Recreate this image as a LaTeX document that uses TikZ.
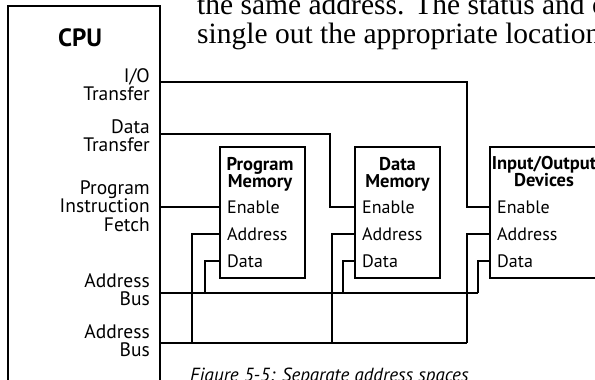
\documentclass[tikz,border=0pt]{standalone}
\usepackage{fontspec}
\setmainfont{PT Sans}
\newfontfamily\bookfont{Liberation Serif}
\usetikzlibrary{positioning}
\tikzset{
  chip/.style={draw, line width=2.6pt, minimum width=85pt, minimum height=131pt, inner sep=0pt, outer sep=0pt},
  wire/.style={line width=1.1pt},
  sig/.style={font=\fontsize{19.5}{18.5}\selectfont, align=right, anchor=north east, inner sep=0pt},
  pinlbl/.style={font=\fontsize{18}{18}\selectfont, anchor=base west, inner sep=0pt},
  ttl/.style={font=\bfseries\fontsize{18.5}{17}\selectfont, align=center, anchor=north, inner sep=0pt},
  bookline/.style={font=\bookfont\fontsize{29.5}{28}\selectfont, anchor=base west, inner sep=0pt}
}

\begin{document}
\begin{tikzpicture}[x=1pt,y=-1pt]
\useasboundingbox (0,0) rectangle (595,380);
\clip (0,0) rectangle (595,380);

\node[bookline] (txtA) at (197,15) {the same address. The status and c};
\node[bookline] (txtB) at (197,43) {single out the appropriate location};

\node[draw, line width=2pt, minimum width=152pt, minimum height=414pt, anchor=north west, inner sep=0pt, outer sep=0pt] (cpu) at (8,6) {};
\node[font=\bfseries\fontsize{25}{25}\selectfont] (cpulbl) at (80,38) {CPU};
\node[sig] (sIO) at (150,68) {I/O\\Transfer};
\node[sig] (sDT) at (150,119) {Data\\Transfer};
\node[sig] (sIF) at (150,180) {Program\\Instruction\\Fetch};
\node[sig] (sAB1) at (150,273) {Address\\Bus};
\node[sig] (sAB2) at (150,324) {Address\\Bus};

\node[chip] (pm) at (262.5,212.5) {};
\node[chip] (dm) at (397.5,212.5) {};
\node[chip, minimum width=112pt] (io) at (546,212.5) {};
\node[ttl] (pmT) at (260,157) {Program\\Memory};
\node[ttl] (dmT) at (397.5,157) {Data\\Memory};
\node[ttl] (ioT) at (544,156) {Input/Output\\Devices};

\foreach \b/\x in {pm/227,dm/362,io/497}{
  \node[pinlbl] (\b En) at (\x,213) {Enable};
  \node[pinlbl] (\b Ad) at (\x,240) {Address};
  \node[pinlbl] (\b Da) at (\x,267) {Data};
}

\coordinate (cIO) at (160,82);
\coordinate (cDT) at (160,134);
\coordinate (cIF) at (160,207);
\coordinate (cAB1) at (160,293);
\coordinate (cAB2) at (160,343);
\foreach \b/\x in {pm/220,dm/355,io/490}{
  \coordinate (\b En) at (\x,207);
  \coordinate (\b Ad) at (\x,234);
  \coordinate (\b Da) at (\x,261);
}
\coordinate (bus1end) at (478,293);
\coordinate (bus2end) at (467,343);

\draw[wire] (cIO) -| ([xshift=-23pt]ioEn) -- (ioEn);
\draw[wire] (cDT) -| ([xshift=-25pt]dmEn) -- (dmEn);
\draw[wire] (cIF) -- (pmEn);
\draw[wire] (cAB1) -- (bus1end);
\draw[wire] (cAB2) -- (bus2end);
\draw[wire] (pmDa) -| (205,293);
\draw[wire] (dmDa) -| (343,293);
\draw[wire] (ioDa) -| (bus1end);
\draw[wire] (pmAd) -| (192,343);
\draw[wire] (dmAd) -| (332,343);
\draw[wire] (ioAd) -| (bus2end);

\node[font=\itshape\fontsize{19}{19}\selectfont, anchor=base west, inner sep=0pt] (cap) at (190,381) {Figure 5-5: Separate address spaces};
\end{tikzpicture}
\end{document}
